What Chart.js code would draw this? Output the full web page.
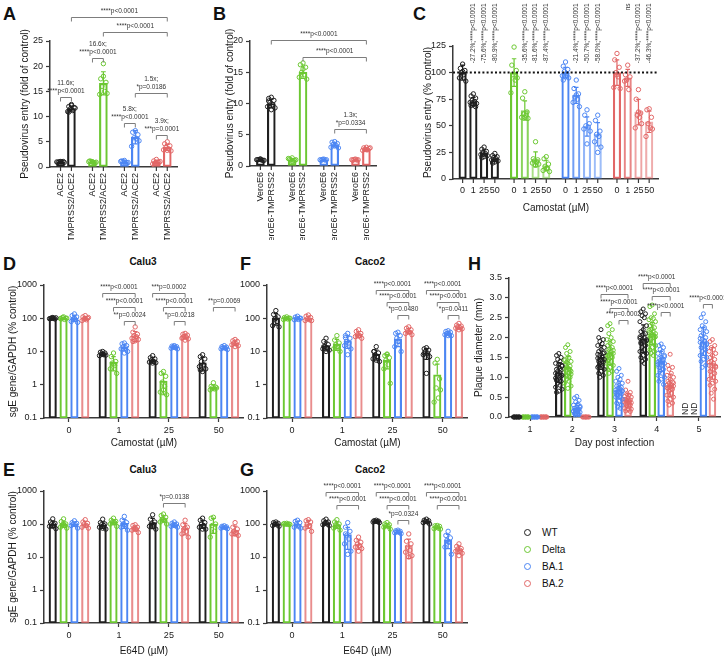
<!DOCTYPE html>
<html><head><meta charset="utf-8">
<script src="https://cdn.jsdelivr.net/npm/chart.js"></script>
<style>
html,body{margin:0;padding:0;background:#fff;overflow:hidden;width:724px;height:658px}
#page{position:relative;width:724px;height:658px;overflow:hidden;font-family:'Liberation Sans',Arial,Helvetica,sans-serif;color:#111}
#page canvas{position:absolute}
.pl{position:absolute;font-size:18px;line-height:18px;font-weight:bold}
.tt{position:absolute;font-size:10px;line-height:10px;font-weight:bold;transform:translateX(-50%);white-space:nowrap}
.lg{position:absolute;font-size:10px;line-height:12px;white-space:nowrap}
.lg i{display:inline-block;width:5px;height:5px;border:1px solid;border-radius:50%;margin-right:11px;vertical-align:middle;position:relative;top:-1px}
</style></head>
<body><div id="page">
<div class="pl" style="left:3px;top:5px">A</div>
<div class="pl" style="left:213px;top:5px">B</div>
<div class="pl" style="left:413px;top:5px">C</div>
<div class="pl" style="left:3px;top:255px">D</div>
<div class="pl" style="left:240px;top:255px">F</div>
<div class="pl" style="left:468px;top:255px">H</div>
<div class="pl" style="left:3px;top:461px">E</div>
<div class="pl" style="left:240px;top:461px">G</div>
<div class="tt" style="left:143px;top:257px">Calu3</div>
<div class="tt" style="left:370px;top:257px">Caco2</div>
<div class="tt" style="left:143px;top:465px">Calu3</div>
<div class="tt" style="left:370px;top:465px">Caco2</div>
<div class="lg" style="left:524px;top:527px"><i style="border-color:#1f1f1f"></i>WT</div>
<div class="lg" style="left:524px;top:544px"><i style="border-color:#6cc832"></i>Delta</div>
<div class="lg" style="left:524px;top:561px"><i style="border-color:#4c86f3"></i>BA.1</div>
<div class="lg" style="left:524px;top:578px"><i style="border-color:#e26767"></i>BA.2</div>
</div>
<script>
// ---------------- DATA ----------------
const VARIANTS = ['WT', 'Delta', 'BA.1', 'BA.2'];

// Panel A (fold of control) : [cell type][variant]
const A_bars = ['ACE2', 'TMPRSS2/ACE2'];
const A_yTicks = [0, 5, 10, 15, 20, 25];
const A_mean = [[1.0, 1.05, 1.0, 1.0], [11.6, 16.6, 5.9, 3.9]];
const A_sd = [[0.08, 0.12, 0.2, 0.28], [0.5, 2.3, 1.3, 0.6]];
const A_pts = [
  [[1.0,0.9,1.1,1.05,0.95,1.0,0.92,1.08],[1.0,1.2,0.85,1.1,0.9,1.05,0.95,1.0],[1.3,1.2,0.8,1.0,0.7,1.1,0.9,1.0],[1.5,1.2,0.9,0.8,1.0,0.6,1.1,0.9]],
  [[12.4,12.0,11.8,11.5,11.2,11.0,11.7,12.2,10.9],[20.5,17.5,16.8,16.0,15.0,14.4,14.6,18.0],[7.2,6.9,6.4,5.8,5.6,4.1,5.2],[5.0,4.6,4.2,3.9,3.6,3.4,3.2,3.3]]
];
const A_brackets = [
  [1,0,1,3,29.8,'****p<0.0001'],
  [1,1,1,3,26.8,'****p<0.0001'],
  [0,1,1,1,21.6,'16.6x;|****p<0.0001'],
  [0,0,1,0,13.9,'11.6x;|****p<0.0001'],
  [1,2,1,3,14.7,'1.5x;|*p=0.0186'],
  [0,2,1,2,8.7,'5.8x;|****p<0.0001'],
  [0,3,1,3,6.3,'3.9x;|***p=0.0001']
];

// Panel B
const B_bars = ['VeroE6', 'VeroE6-TMPRSS2'];
const B_yTicks = [0, 5, 10, 15, 20];
const B_mean = [[1.0, 1.0, 1.0, 1.0], [10.0, 15.0, 3.4, 2.75]];
const B_sd = [[0.1, 0.15, 0.08, 0.08], [0.7, 1.0, 0.35, 0.2]];
const B_pts = [
  [[1.1,1.0,0.9,1.05,0.95,1.0,0.9,1.1],[1.3,1.1,0.9,1.0,0.8,1.2,1.0,0.7],[1.1,0.9,1.0,1.05,0.95,1.0],[1.1,0.9,1.0,1.05,0.95,1.0]],
  [[11.0,10.8,10.5,10.2,9.8,9.5,9.3,9.0,10.4],[16.5,16.2,15.8,15.0,14.6,14.2,13.9,15.5],[3.9,3.8,3.6,3.5,3.3,3.0,2.9,3.2],[3.0,2.9,2.8,2.7,2.6,2.5,2.9,2.6]]
];
const B_brackets = [
  [1,0,1,3,20.2,'****p<0.0001'],
  [1,1,1,3,17.5,'****p<0.0001'],
  [1,2,1,3,6.0,'1.3x;|*p=0.0334']
];

// Panel C (% control) : [camostat conc][variant]
const C_conc = ['0', '1', '25', '50'];
const C_yTicks = [0, 25, 50, 75, 100, 125];
const C_mean = [[100,100,100,100],[72.8,64.4,78.6,95],[24.4,18.4,49.3,62.8],[19.1,12.6,42.0,53.7]];
const C_sd = [[7,13,5,12],[3.8,9,7.5,8],[3,7,9,12],[2.8,5,11,10]];
const C_pts = [
  [[108,104,102,100,98,95,92,101],[124,107,102,98,93,81,95],[110,106,103,101,99,97,95,96,93],[118,112,105,100,96,86,85,98]],
  [[80,78,76,74,73,72,71,70,69,68],[82,76,63,61,60,58,57,58],[93,85,80,77,75,72,68,79],[107,98,96,93,84,92]],
  [[30,28,26,25,24,23,22,21,20],[35,19,18,17,16,15,14,13],[65,60,52,50,49,47,45,33],[84,75,62,60,58,48,52,63]],
  [[24,22,21,20,19,18,17,16,15],[21,19,14,12,10,8,7,10],[60,55,45,42,40,35,30,25],[66,65,58,52,48,40,47]]
];
const C_notes = [
  ['', '', '', ''],
  ['-27.2%;****p<0.0001','-35.6%;****p<0.0001','-21.4%;****p<0.0001','ns'],
  ['-75.6%;****p<0.0001','-81.6%;****p<0.0001','-50.7%;****p<0.0001','-37.2%;****p<0.0001'],
  ['-80.9%;****p<0.0001','-87.4%;****p<0.0001','-58.0%;****p<0.0001','-46.3%;****p<0.0001']
];

// Panels D-G (sgE gene/GAPDH, % control) : [variant][concentration]
const DOSE = ['0', '1', '25', '50'];
const LOG_TICKS = [0.1, 1, 10, 100, 1000];
const D_mean = [[100,8.5,5.5,4.6],[100,4.8,1.3,0.85],[100,13.5,13.5,13],[100,30,28,18]];
const D_sd = [[3,0.9,1,2],[6,2.2,0.8,0.15],[20,3,1,1.2],[11,10,4,3]];
const D_pts = [
  [[105,98,95,102,100,97,103,100],[10,9.5,9,8.5,8,7.5,7.8,8.2],[7.5,6.5,6,5.5,5,4.8,4.6,4.5],[8,7,6,5,4,3.5,3,2.5,2.8]],
  [[110,95,100,105,92,98,100],[9,7,5,4.5,3.8,3.0,2.2,4.2],[2.5,2.2,1.8,1.2,0.9,0.6,0.5,0.7],[1.15,0.9,0.85,0.8,0.75,0.7,0.8]],
  [[135,120,110,95,90,80,75,100],[18,17,15,14,13,12,10,9],[15,14.5,14,13.5,13,12.5,12,13.5],[15,14,13.5,13,12.5,12,11.5]],
  [[120,110,100,95,90,85,105,98],[55,38,33,30,28,25,23,21,20],[35,33,31,29,27,25,24,22,26],[23,21,20,18,17,16,15,14]]
];
const D_brackets = [
  [0,1,3,1,575,'****p<0.0001'],[1,1,3,1,219,'****p<0.0001'],[2,1,3,1,83,'**p=0.0024'],
  [0,2,3,2,575,'***p=0.0002'],[1,2,3,2,219,'****p<0.0001'],[2,2,3,2,83,'*p=0.0218'],
  [1,3,3,3,219,'**p=0.0069']
];

const F_mean = [[100,15,8.3,9],[100,17,5.5,2.0],[100,21,24,35],[100,33,42,55]];
const F_sd = [[38,4.6,2.8,3.2],[6,6.2,2.5,2.2],[8,8.5,10,4.4],[14,6.5,7.5,7.7]];
const F_pts = [
  [[170,130,110,95,80,60,55,100],[25,20,16,14,13,12,11,10,14],[14,10,9,8,7,6,5,5.5,10],[13,12,11,10,9,8,7,2.2,8.8]],
  [[110,105,100,98,95,92,100],[30,22,18,16,14,12,10,14],[8,7.5,6.5,5.5,4,3,1.1,8.4],[5.8,4.5,1.5,0.8,0.4,0.3,0.7]],
  [[115,108,100,95,92,90,100],[35,30,25,20,18,15,12,8,26],[38,35,30,25,20,14,10,20],[42,40,38,35,33,32,30,30]],
  [[125,115,105,95,90,85,85],[45,40,35,32,30,28,25,29],[55,50,45,42,38,35,32,39],[70,62,58,55,52,50,48,45]]
];
const F_brackets = [
  [0,2,3,2,708,'****p<0.0001'],[1,2,3,2,309,'****p<0.0001'],[2,2,3,2,126,'*p=0.0480'],
  [0,3,3,3,708,'****p<0.0001'],[1,3,3,3,309,'****p<0.0001'],[2,3,3,3,126,'*p=0.0411']
];

const E_mean = [[100,95,110,100],[100,115,145,100],[100,105,95,80],[100,75,75,65]];
const E_sd = [[22,22,38,27],[21,19,32,48],[15,32,11,5.5],[20,13,28,21]];
const E_pts = [
  [[143,115,105,100,95,85,72,85],[140,110,100,95,90,80,70,75],[190,140,115,100,95,85,70,85],[150,130,110,100,90,80,70,70]],
  [[143,118,100,95,90,80,75,99],[150,130,120,115,110,100,85,110],[200,180,160,140,130,115,100,135],[160,150,100,90,60,40]],
  [[125,110,105,100,95,90,75],[170,130,110,100,90,80,65,95],[115,105,100,95,90,85,80,90],[88,85,82,80,78,75,72]],
  [[135,115,105,100,90,80,75],[95,90,80,75,70,65,55,70],[130,95,80,70,60,50,40,75],[110,80,70,60,55,50,45,50]]
];
const E_brackets = [[1,2,3,2,435,'*p=0.0138']];

const G_mean = [[100,110,120,120],[100,95,90,80],[100,48,58,33],[100,25,22,17]];
const G_sd = [[10,16,6.5,13],[3,21,13,7.7],[20,31,4.7,15],[26,8,13,4.3]];
const G_pts = [
  [[115,110,105,100,95,90,85],[140,125,115,105,100,95,90,110],[130,125,122,120,118,115,110],[140,130,125,120,115,110,100]],
  [[105,103,100,98,97,100,97],[135,115,100,95,85,75,65,90],[110,100,95,90,85,80,70],[90,88,85,80,75,72,70]],
  [[130,120,110,100,85,80,75],[110,80,60,45,35,25,15,12,50],[65,62,60,58,56,54,51],[60,45,38,32,28,20,12,29]],
  [[135,125,115,100,90,75,60],[40,32,28,25,22,20,18,15],[50,30,25,20,16,14,11,10],[25,21,18,17,16,15,13,11]]
];
const G_brackets = [
  [0,1,3,1,933,'****p<0.0001'],[1,1,3,1,379,'****p<0.0001'],
  [0,2,3,2,933,'****p<0.0001'],[1,2,3,2,379,'****p<0.0001'],[2,2,3,2,134,'*p=0.0324'],
  [0,3,3,3,933,'****p<0.0001'],[1,3,3,3,379,'****p<0.0001']
];

// Panel H (plaque diameter, mm) : [variant][day]
const H_days = ['1', '2', '3', '4', '5'];
const H_yTicks = [0, 0.5, 1.0, 1.5, 2.0, 2.5, 3.0, 3.5];
const H_mean = [[0,1.12,1.5,1.97,null],[0,1.25,1.62,2.1,null],[0,0.22,0.68,1.4,1.9],[0,0,0.42,0.8,1.35]];
const H_sd = [[0,0.25,0.3,0.35,null],[0,0.27,0.3,0.28,null],[0,0.12,0.22,0.25,0.35],[0,0,0.17,0.28,0.4]];
const H_pts = [
  [[0,0,0,0,0,0,0,0,0,0],
   [1.6,1.55,1.5,1.45,1.4,1.35,1.3,1.25,1.2,1.18,1.15,1.12,1.1,1.05,1.0,0.95,0.9,0.85,0.8,0.75,0.7,0.65,0.62,1.02,1.08,1.22,0.98,1.28,1.32,0.92],
   [2.2,2.0,1.95,1.9,1.85,1.8,1.75,1.7,1.65,1.6,1.55,1.5,1.48,1.45,1.42,1.4,1.38,1.35,1.3,1.25,1.2,1.15,1.1,1.05,1.0,1.52,1.58,1.62,1.32,1.28],
   [2.72,2.65,2.6,2.55,2.5,2.4,2.3,2.2,2.15,2.1,2.05,2.0,1.98,1.95,1.9,1.85,1.8,1.75,1.7,1.65,1.6,1.55,1.5,1.45,1.4,1.35,2.02,1.92,2.08,1.88],
   null],
  [[0,0,0,0,0,0,0,0,0,0],
   [1.82,1.75,1.65,1.6,1.5,1.45,1.4,1.35,1.3,1.28,1.25,1.22,1.2,1.15,1.1,1.05,1.0,0.95,0.9,0.85,0.78,0.72,1.32,1.18,1.38,1.12,1.42,1.08],
   [2.35,2.3,2.2,2.1,2.0,1.95,1.9,1.85,1.8,1.75,1.7,1.65,1.62,1.6,1.58,1.55,1.5,1.45,1.4,1.35,1.3,1.25,1.2,1.15,1.1,1.52,1.48,1.68,1.72,1.42],
   [2.82,2.78,2.6,2.5,2.48,2.45,2.4,2.35,2.3,2.25,2.2,2.15,2.12,2.1,2.08,2.05,2.0,1.95,1.9,1.85,1.8,1.75,1.7,1.65,1.6,1.55,2.18,2.02,2.22,1.98],
   null],
  [[0,0,0,0,0,0,0,0,0,0],
   [0.52,0.48,0.42,0.38,0.33,0.3,0.27,0.25,0.22,0.2,0.18,0.16,0.14,0.12,0.1,0.08,0.06,0.05,0.2,0.15,0.24,0.18],
   [1.22,1.15,1.05,1.0,0.95,0.9,0.85,0.8,0.78,0.75,0.72,0.7,0.68,0.65,0.62,0.6,0.58,0.55,0.52,0.5,0.45,0.4,0.35,0.3,0.25,0.22,0.62,0.66,0.74,0.56],
   [1.84,1.8,1.75,1.7,1.65,1.6,1.55,1.5,1.48,1.45,1.42,1.4,1.38,1.35,1.3,1.25,1.2,1.15,1.1,1.05,1.0,0.95,0.9,0.82,1.36,1.44,1.32,1.52],
   [2.6,2.5,2.4,2.3,2.25,2.2,2.15,2.1,2.05,2.0,1.95,1.9,1.88,1.85,1.8,1.75,1.7,1.65,1.6,1.55,1.5,1.45,1.4,1.3,1.25,1.92,1.98,1.82]],
  [[0,0,0,0,0,0,0,0,0,0],
   [0,0,0,0,0,0,0,0],
   [0.9,0.68,0.62,0.58,0.55,0.52,0.5,0.48,0.45,0.43,0.42,0.4,0.38,0.36,0.35,0.33,0.3,0.28,0.25,0.22,0.2,0.18,0.15,0.14,0.4,0.38,0.44],
   [1.58,1.3,1.25,1.2,1.1,1.05,1.0,0.95,0.9,0.88,0.85,0.82,0.8,0.78,0.75,0.72,0.7,0.65,0.6,0.55,0.5,0.45,0.4,0.35,0.3,0.78,0.74,0.86,0.68],
   [1.95,1.9,1.8,1.75,1.7,1.65,1.6,1.55,1.5,1.45,1.4,1.35,1.3,1.25,1.2,1.15,1.1,1.05,1.0,0.95,0.9,0.85,0.8,0.7,0.6,0.45,1.38,1.28]]
];
const H_brackets = [
  [0,2,3,2,3.10,'****p<0.0001'],[1,2,3,2,2.75,'****p<0.0001'],[2,2,3,2,2.44,'***p=0.0002'],
  [0,3,3,3,3.38,'****p<0.0001'],[1,3,3,3,3.05,'****p<0.0001'],[2,3,3,3,2.64,'****p<0.0001'],
  [2,4,3,4,2.85,'****p<0.0001']
];
const H_marks = [[0,4,'ND'],[1,4,'ND']];

// ---------------- RENDERING ----------------
const FONT = "'Liberation Sans', Arial, Helvetica, sans-serif";
const AX = '#3a3a3a';
const COLORS = ['#1f1f1f', '#6cc832', '#4c86f3', '#e26767'];
const JIT = [0, -0.6, 0.6, -0.3, 0.3, -0.85, 0.85];
Chart.defaults.font.family = FONT;
Chart.defaults.color = '#1a1a1a';
const page = document.getElementById('page');

function rgba(hex, a) {
  const n = parseInt(hex.slice(1), 16);
  return `rgba(${(n >> 16) & 255},${(n >> 8) & 255},${n & 255},${a})`;
}

function extras(c) {
  return {
    id: 'extras',
    afterDatasetsDraw(chart) {
      const ctx = chart.ctx, ys = chart.scales.y, ca = chart.chartArea;
      const E = (d, j) => chart.getDatasetMeta(d).data[j];
      const nb = c.mean.length, n = c.cats.length;
      ctx.save();
      if (c.refLine != null) {
        const yy = ys.getPixelForValue(c.refLine);
        ctx.strokeStyle = '#111'; ctx.lineWidth = 2; ctx.setLineDash([2, 2.2]);
        ctx.beginPath(); ctx.moveTo(ca.left, yy); ctx.lineTo(ca.right, yy); ctx.stroke();
        ctx.setLineDash([]);
      }
      // error bars (mean +/- SD)
      for (let d = 0; d < nb; d++) for (let j = 0; j < n; j++) {
        const m = c.mean[d][j], s = c.sd[d][j];
        if (m == null || !s) continue;
        const x = E(d, j).x, hw = c.bt * 0.3;
        const yt = ys.getPixelForValue(m + s);
        const lo = m - s;
        let yb = null, capLo = false;
        if (!c.log || lo > 0) {
          yb = ys.getPixelForValue(Math.max(lo, c.yMin));
          capLo = lo >= c.yMin;
        }
        const ym = ys.getPixelForValue(m);
        ctx.strokeStyle = c.col(d, j); ctx.lineWidth = 1.2;
        ctx.beginPath();
        ctx.moveTo(x, yt); ctx.lineTo(x, yb == null ? ym : yb);
        ctx.moveTo(x - hw, yt); ctx.lineTo(x + hw, yt);
        if (capLo) { ctx.moveTo(x - hw, yb); ctx.lineTo(x + hw, yb); }
        ctx.stroke();
      }
      // per-bar axis labels and tick marks
      if (c.barLabels) {
        ctx.font = `9px ${FONT}`; ctx.fillStyle = '#1a1a1a';
        ctx.strokeStyle = AX; ctx.lineWidth = 1.2;
        for (let d = 0; d < nb; d++) for (let j = 0; j < n; j++) {
          const x = E(d, j).x;
          ctx.beginPath(); ctx.moveTo(x, ca.bottom); ctx.lineTo(x, ca.bottom + 4); ctx.stroke();
          const t = c.barLabels[d];
          if (c.rotLabels) {
            ctx.save(); ctx.translate(x, ca.bottom + 6); ctx.rotate(-Math.PI / 2);
            ctx.textAlign = 'right'; ctx.textBaseline = 'middle'; ctx.fillText(t, 0, 0); ctx.restore();
          } else {
            ctx.textAlign = 'center'; ctx.textBaseline = 'top'; ctx.fillText(t, x, ca.bottom + 7);
          }
        }
      }
      // rotated per-bar notes (panel C), hanging from a common top line
      if (c.notes) {
        ctx.font = `6.5px ${FONT}`; ctx.fillStyle = '#333';
        const y0 = ys.getPixelForValue(c.noteAt);
        for (let d = 0; d < nb; d++) for (let j = 0; j < n; j++) {
          const t = c.notes[d][j]; if (!t) continue;
          const x = E(d, j).x;
          ctx.save(); ctx.translate(x, y0); ctx.rotate(-Math.PI / 2);
          ctx.textAlign = 'right'; ctx.textBaseline = 'middle'; ctx.fillText(t, 0, 0); ctx.restore();
        }
      }
      // ND marks
      if (c.marks) {
        ctx.font = `8.5px ${FONT}`; ctx.fillStyle = '#222';
        for (const mk of c.marks) {
          const x = E(mk[0], mk[1]).x;
          ctx.save(); ctx.translate(x, ca.bottom - 2); ctx.rotate(-Math.PI / 2);
          ctx.textAlign = 'left'; ctx.textBaseline = 'middle'; ctx.fillText(mk[2], 0, 0); ctx.restore();
        }
      }
      // significance brackets
      ctx.font = `${c.bf || 6.5}px ${FONT}`;
      for (const b of c.brackets || []) {
        const x1 = E(b[0], b[1]).x, x2 = E(b[2], b[3]).x;
        const yy = Math.round(ys.getPixelForValue(b[4])) + 0.5;
        ctx.strokeStyle = '#7d7d7d'; ctx.lineWidth = 1;
        ctx.beginPath(); ctx.moveTo(x1, yy + 4); ctx.lineTo(x1, yy); ctx.lineTo(x2, yy); ctx.lineTo(x2, yy + 4); ctx.stroke();
        const lines = b[5].split('|');
        ctx.fillStyle = '#333'; ctx.textAlign = 'center'; ctx.textBaseline = 'middle';
        lines.forEach((t, i) => ctx.fillText(t, (x1 + x2) / 2, yy - 6 - (lines.length - 1 - i) * 8));
      }
      ctx.restore();
    }
  };
}

function build(c) {
  const cv = document.createElement('canvas');
  cv.width = c.rect.w; cv.height = c.rect.h;
  cv.style.left = c.rect.x + 'px'; cv.style.top = c.rect.y + 'px';
  page.appendChild(cv);
  const n = c.cats.length, nb = c.mean.length;
  const catW = (c.area.r - c.area.l) / n;          // pixel width of one category
  const off = d => (d - (nb - 1) / 2) * c.gap / catW; // bar centre offset, in category units
  const btIdx = c.bt / catW;
  const datasets = [];
  for (let d = 0; d < nb; d++) {
    datasets.push({
      type: 'bar', xAxisID: 'xb', yAxisID: 'y', order: 2, grouped: false,
      data: c.mean[d].map((m, j) => ({ x: j + off(d), y: m })),
      backgroundColor: 'rgba(255,255,255,0)',
      borderColor: c.cats.map((_, j) => rgba(c.col(d, j), c.barAlpha(d, j))),
      borderWidth: 1.5, borderSkipped: false, barThickness: c.bt
    });
  }
  for (let d = 0; d < nb; d++) for (let j = 0; j < n; j++) {
    const vals = c.pts[d][j]; if (!vals) continue;
    const cx = j + off(d);
    datasets.push({
      type: 'scatter', xAxisID: 'xb', yAxisID: 'y', order: 0, clip: false,
      data: vals.map((v, k) => ({ x: cx + JIT[k % JIT.length] * btIdx * c.spread, y: v })),
      pointRadius: c.pr || 2.2, pointBorderWidth: 1, pointBorderColor: c.col(d, j),
      pointBackgroundColor: 'rgba(255,255,255,0)', pointHoverRadius: 0, showLine: false
    });
  }
  const yCfg = {
    type: c.log ? 'logarithmic' : 'linear', position: 'left', min: c.yMin, max: c.yMax,
    afterBuildTicks: s => { s.ticks = c.yTicks.map(v => ({ value: v })); },
    ticks: { callback: v => c.yFmt ? c.yFmt(v) : String(v), font: { size: 9 }, color: '#1a1a1a', padding: 3, autoSkip: false },
    border: { display: true, color: AX, width: 1.5 },
    grid: { display: true, drawOnChartArea: false, drawTicks: true, tickLength: 4, tickColor: AX, tickWidth: 1.2 },
    title: c.yTitle ? { display: true, text: c.yTitle, font: { size: 10 }, color: '#1a1a1a', padding: { top: 4, bottom: 4 } } : { display: false },
    afterFit: s => { s.width = c.area.l - c.rect.x; }
  };
  new Chart(cv, {
    type: 'bar',
    data: { labels: c.cats, datasets },
    options: {
      responsive: false, animation: false, events: [],
      layout: { padding: { left: 0, top: c.area.t - c.rect.y, right: c.rect.x + c.rect.w - c.area.r, bottom: 0 } },
      plugins: { legend: { display: false }, tooltip: { enabled: false }, title: { display: false } },
      scales: {
        x: {
          type: 'category', offset: true, position: 'bottom',
          border: { display: true, color: AX, width: 1.5 },
          grid: { display: !!c.xTicks, offset: false, drawOnChartArea: false, drawTicks: true, tickLength: 4, tickColor: AX, tickWidth: 1.2 },
          ticks: { display: !!c.xLabels, font: { size: 9 }, color: '#1a1a1a', maxRotation: 0, minRotation: 0, autoSkip: false, padding: 3 },
          title: c.xTitle ? { display: true, text: c.xTitle, font: { size: 10 }, color: '#1a1a1a', padding: { top: 4, bottom: 4 } } : { display: false },
          afterFit: s => { s.height = c.rect.y + c.rect.h - c.area.b; }
        },
        xb: { type: 'linear', display: false, position: 'bottom', min: -0.5, max: n - 0.5, bounds: 'data', offset: false, grid: { offset: false } },
        y: yCfg
      }
    },
    plugins: [extras(c)]
  });
}

const byCat = (d, j) => COLORS[j];
const byDs = (d) => COLORS[d];
const dsAlpha = (d) => d === 3 ? 0.75 : 1;

build({ rect: {x:15, y:0, w:166, h:240}, area: {l:50, t:41, r:179, b:167},
  cats: VARIANTS, mean: A_mean, sd: A_sd, pts: A_pts, col: byCat, barAlpha: () => 1,
  gap: 11, bt: 8, spread: 0.55, yMin: 0, yMax: 25, yTicks: A_yTicks,
  yTitle: 'Pseudovirus entry (fold of control)', barLabels: A_bars, rotLabels: true, brackets: A_brackets });

build({ rect: {x:220, y:0, w:160, h:240}, area: {l:250, t:41, r:378, b:166},
  cats: VARIANTS, mean: B_mean, sd: B_sd, pts: B_pts, col: byCat, barAlpha: () => 1,
  gap: 11, bt: 8, spread: 0.55, yMin: 0, yMax: 20, yTicks: B_yTicks,
  yTitle: 'Pseudovirus entry (fold of control)', barLabels: B_bars, rotLabels: true, brackets: B_brackets });

build({ rect: {x:418, y:0, w:244, h:218}, area: {l:453, t:46, r:660, b:179},
  cats: VARIANTS, mean: C_mean, sd: C_sd, pts: C_pts, col: byCat,
  barAlpha: (d, j) => j === 0 ? 1 : [1, 0.8, 0.6, 0.55][d],
  gap: 10.8, bt: 7.5, spread: 0.5, yMin: 0, yMax: 125, yTicks: C_yTicks,
  yTitle: 'Pseudovirus entry (% control)', xTitle: 'Camostat (µM)',
  barLabels: C_conc, rotLabels: false, refLine: 100, notes: C_notes, noteAt: 165 });

build({ rect: {x:3, y:270, w:244, h:183}, area: {l:44, t:285, r:245, b:418},
  cats: DOSE, mean: D_mean, sd: D_sd, pts: D_pts, col: byDs, barAlpha: dsAlpha, log: true,
  gap: 10.9, bt: 7.5, spread: 0.5, yMin: 0.1, yMax: 1000, yTicks: LOG_TICKS,
  yTitle: 'sgE gene/GAPDH (% control)', xTitle: 'Camostat (µM)', xTicks: true, xLabels: true, brackets: D_brackets });

build({ rect: {x:238, y:270, w:233, h:183}, area: {l:267, t:285, r:469, b:418},
  cats: DOSE, mean: F_mean, sd: F_sd, pts: F_pts, col: byDs, barAlpha: dsAlpha, log: true,
  gap: 10.9, bt: 7.5, spread: 0.5, yMin: 0.1, yMax: 1000, yTicks: LOG_TICKS,
  xTitle: 'Camostat (µM)', xTicks: true, xLabels: true, brackets: F_brackets });

build({ rect: {x:3, y:476, w:244, h:185}, area: {l:44, t:491, r:245, b:623},
  cats: DOSE, mean: E_mean, sd: E_sd, pts: E_pts, col: byDs, barAlpha: dsAlpha, log: true,
  gap: 10.9, bt: 7.5, spread: 0.5, yMin: 0.1, yMax: 1000, yTicks: LOG_TICKS,
  yTitle: 'sgE gene/GAPDH (% control)', xTitle: 'E64D (µM)', xTicks: true, xLabels: true, brackets: E_brackets });

build({ rect: {x:238, y:476, w:233, h:185}, area: {l:267, t:491, r:469, b:623},
  cats: DOSE, mean: G_mean, sd: G_sd, pts: G_pts, col: byDs, barAlpha: dsAlpha, log: true,
  gap: 10.9, bt: 7.5, spread: 0.5, yMin: 0.1, yMax: 1000, yTicks: LOG_TICKS,
  xTitle: 'E64D (µM)', xTicks: true, xLabels: true, brackets: G_brackets });

build({ rect: {x:469, y:262, w:255, h:191}, area: {l:509, t:278, r:720, b:417},
  cats: H_days, mean: H_mean, sd: H_sd, pts: H_pts, col: byDs, barAlpha: dsAlpha,
  gap: 9, bt: 7, spread: 0.55, pr: 2.0, yMin: 0, yMax: 3.5, yTicks: H_yTicks, yFmt: v => v.toFixed(1),
  yTitle: 'Plaque diameter (mm)', xTitle: 'Day post infection', xTicks: true, xLabels: true,
  brackets: H_brackets, marks: H_marks });
</script>
</body></html>
